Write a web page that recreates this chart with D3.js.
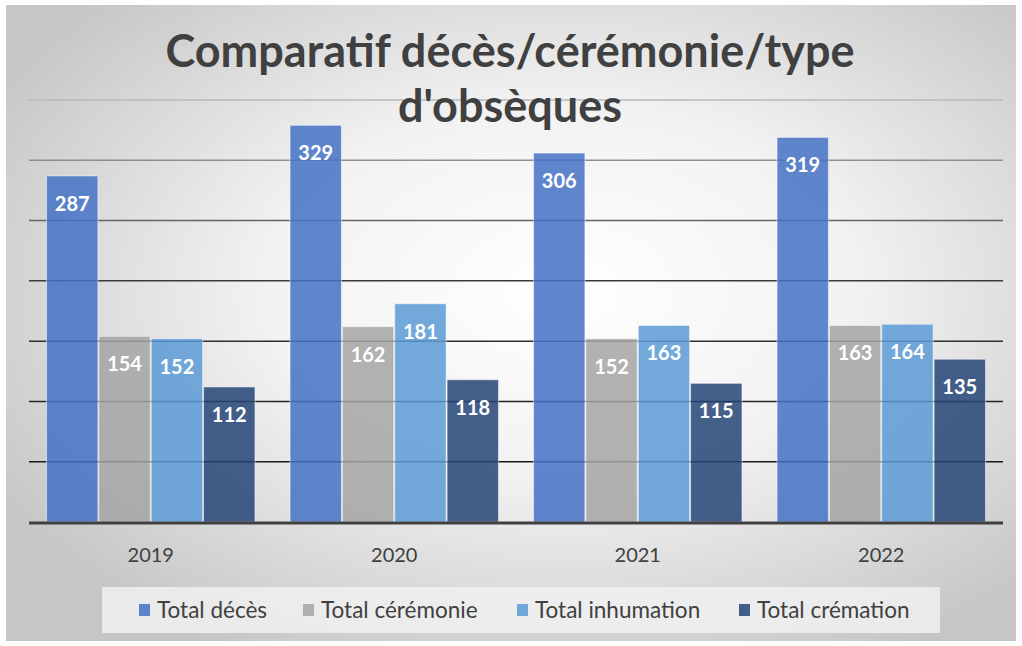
<!DOCTYPE html>
<html>
<head>
<meta charset="utf-8">
<script src="https://cdn.jsdelivr.net/npm/d3@7"></script>
<style>
  body { margin: 0; background: #fff; }
  svg { display: block; }
</style>
</head>
<body>
<svg id="chartSvg" width="1022" height="646"></svg>
<script>
// Chart data
const years = ["2019", "2020", "2021", "2022"];
const seriesNames = ["Total décès", "Total cérémonie", "Total inhumation", "Total crémation"];
const deces = [287, 329, 306, 319];
const ceremonie = [154, 162, 152, 163];
const inhumation = [152, 181, 163, 164];
const cremation = [112, 118, 115, 135];
const yTicks = [50, 100, 150, 200, 250, 300, 350];
const titleLines = ["Comparatif décès/cérémonie/type", "d'obsèques"];

const seriesValues = [deces, ceremonie, inhumation, cremation];
const colors = ["#4472C4", "#A5A5A5", "#5B9BD5", "#264478"];

const svg = d3.select("#chartSvg");
const font = "Lato, 'Noto Sans', sans-serif";

// Background with radial gradient
const defs = svg.append("defs");
const grad = defs.append("radialGradient")
    .attr("id", "bg")
    .attr("cx", "55%").attr("cy", "45%").attr("r", "65%");
grad.append("stop").attr("offset", "0%").attr("stop-color", "#ffffff");
grad.append("stop").attr("offset", "45%").attr("stop-color", "#f2f2f2");
grad.append("stop").attr("offset", "100%").attr("stop-color", "#c6c6c6");

svg.append("rect")
    .attr("x", 6).attr("y", 5)
    .attr("width", 1010).attr("height", 636)
    .attr("fill", "url(#bg)");

// Scales
const x0 = d3.scaleBand()
    .domain(years)
    .range([29, 1003])
    .paddingInner(0.14)
    .paddingOuter(0.07);

const x1 = d3.scaleBand()
    .domain(seriesNames)
    .range([0, x0.bandwidth()]);

const y = d3.scaleLinear()
    .domain([0, 350])
    .range([522, 100]);

// Gridlines, lighter towards the top
const gridColor = d3.scaleLinear()
    .domain([50, 200, 350])
    .range(["#1a1a1a", "#3a3a3a", "#b8b8b8"]);

svg.append("g")
    .selectAll("line")
    .data(yTicks)
    .enter()
    .append("line")
    .attr("x1", 29)
    .attr("x2", 1003)
    .attr("y1", d => y(d))
    .attr("y2", d => y(d))
    .attr("stroke", d => gridColor(d))
    .attr("stroke-width", 1.5);

// Bars
const groups = svg.append("g")
    .selectAll("g")
    .data(years)
    .enter()
    .append("g")
    .attr("transform", d => `translate(${x0(d)},0)`);

groups.selectAll("rect")
    .data((d, i) => seriesNames.map((s, j) => ({ s, j, v: seriesValues[j][i] })))
    .enter()
    .append("rect")
    .attr("x", d => x1(d.s) + 0.5)
    .attr("y", d => y(d.v))
    .attr("width", x1.bandwidth() - 1)
    .attr("height", d => y(0) - y(d.v))
    .attr("fill", d => colors[d.j])
    .attr("fill-opacity", 0.85)
    .attr("stroke", "#ffffff")
    .attr("stroke-opacity", 0.5)
    .attr("stroke-width", 1);

groups.selectAll("text")
    .data((d, i) => seriesNames.map((s, j) => ({ s, j, v: seriesValues[j][i] })))
    .enter()
    .append("text")
    .attr("x", d => x1(d.s) + x1.bandwidth() / 2)
    .attr("y", d => y(d.v) + 35)
    .attr("text-anchor", "middle")
    .attr("font-family", font)
    .attr("font-weight", "bold")
    .attr("font-size", "20px")
    .attr("fill", "#ffffff")
    .text(d => d.v);

// Baseline axis
svg.append("line")
    .attr("x1", 29).attr("x2", 1003)
    .attr("y1", y(0) + 1).attr("y2", y(0) + 1)
    .attr("stroke", "#404040")
    .attr("stroke-width", 3);

// Category labels
svg.append("g")
    .selectAll("text")
    .data(years)
    .enter()
    .append("text")
    .attr("x", d => x0(d) + x0.bandwidth() / 2)
    .attr("y", 562)
    .attr("text-anchor", "middle")
    .attr("font-family", font)
    .attr("font-size", "20px")
    .attr("fill", "#404040")
    .text(d => d);

// Title
svg.append("g")
    .selectAll("text")
    .data(titleLines)
    .enter()
    .append("text")
    .attr("x", 510)
    .attr("y", (d, i) => 67 + i * 55)
    .attr("text-anchor", "middle")
    .attr("font-family", font)
    .attr("font-weight", "bold")
    .attr("font-size", "45px")
    .attr("fill", "#404040")
    .text(d => d);

// Legend
svg.append("rect")
    .attr("x", 102).attr("y", 587)
    .attr("width", 838).attr("height", 46)
    .attr("fill", "#f2f2f2")
    .attr("fill-opacity", 0.8);

const legendX = [139, 303, 517, 739];
const legend = svg.append("g")
    .selectAll("g")
    .data(seriesNames)
    .enter()
    .append("g")
    .attr("transform", (d, i) => `translate(${legendX[i]},610)`);

legend.append("rect")
    .attr("x", 0).attr("y", -6)
    .attr("width", 11).attr("height", 12)
    .attr("fill", (d, i) => colors[i])
    .attr("fill-opacity", 0.85);

legend.append("text")
    .attr("x", 18)
    .attr("y", 8)
    .attr("font-family", font)
    .attr("font-size", "22.5px")
    .attr("fill", "#404040")
    .text(d => d);
</script>
</body>
</html>
